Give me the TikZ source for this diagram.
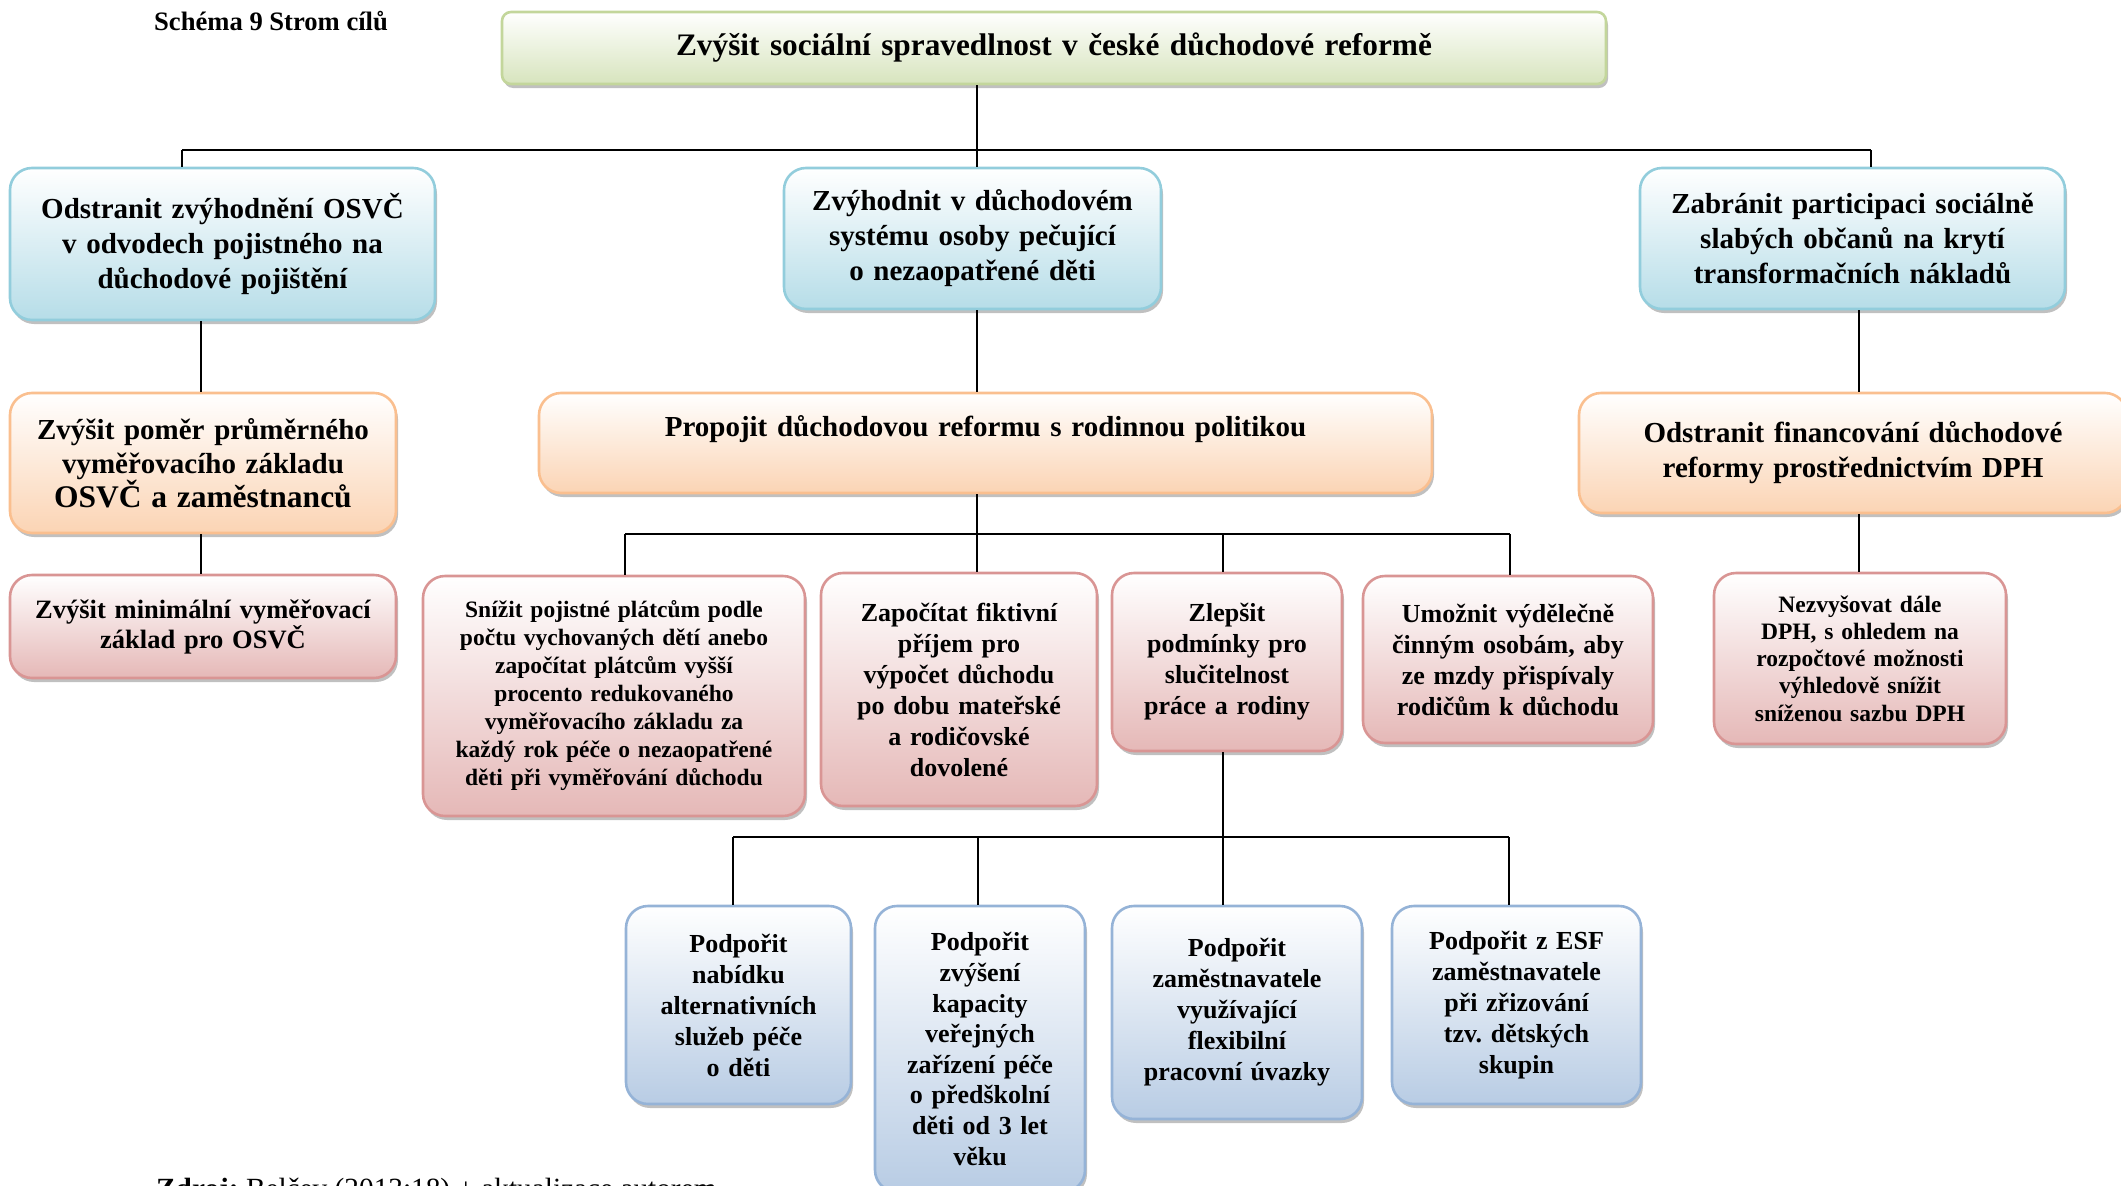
\documentclass[tikz,border=0pt]{standalone}
\usepackage{fontspec}
\setmainfont{Liberation Serif}
\usetikzlibrary{shadows}
\frenchspacing
\definecolor{grB}{HTML}{C3D69B}\definecolor{grF}{HTML}{D7E4BD}
\definecolor{aqB}{HTML}{92CDDC}\definecolor{aqF}{HTML}{B6DDE8}
\definecolor{orB}{HTML}{FABF8F}\definecolor{orF}{HTML}{FBD4B4}
\definecolor{pkB}{HTML}{D99594}\definecolor{pkF}{HTML}{E5B8B7}
\definecolor{blB}{HTML}{95B3D7}\definecolor{blF}{HTML}{B8CCE4}
\newcommand\fsz[2]{\fontsize{#1}{#2}\selectfont\bfseries}
\begin{document}
\begin{tikzpicture}[x=1pt,y=-1pt,
  box/.style={rounded corners=22pt, line width=2.6pt, align=center, inner sep=0pt,
    drop shadow={shadow xshift=2pt,shadow yshift=-4pt,fill=black!45,opacity=.55}},
  greenbox/.style={box, rounded corners=9pt, draw=grB, top color=white, bottom color=grF},
  aquabox/.style={box, draw=aqB, top color=white, bottom color=aqF},
  orangebox/.style={box, draw=orB, top color=white, bottom color=orF},
  pinkbox/.style={box, draw=pkB, top color=white, bottom color=pkF},
  bluebox/.style={box, draw=blB, top color=white, bottom color=blF},
  conn/.style={line width=1.7pt},
  bus/.style={line width=2.8pt}
]
\clip (0,0) rectangle (2121,1186);

\node[anchor=base west, inner sep=0pt, font=\fsz{26.6}{30}] (title) at (154,30) {Schéma 9 Strom cílů};

\node[greenbox, minimum width=1104pt, minimum height=72pt, text width=1090pt, font=\fsz{31.3}{36}] (top) at (1054,48)
  {Zvýšit sociální spravedlnost v české důchodové reformě};

\node[aquabox, minimum width=425pt, minimum height=152pt, text width=413pt, font=\fsz{29}{35}] (B1) at (222.5,244)
  {Odstranit zvýhodnění OSVČ\\ v odvodech pojistného na\\ důchodové pojištění};
\node[aquabox, minimum width=377pt, minimum height=141pt, text width=365pt, font=\fsz{29}{35}] (B2) at (972.5,238.5)
  {Zvýhodnit v důchodovém\\ systému osoby pečující\\ o nezaopatřené děti};
\node[aquabox, minimum width=425pt, minimum height=141pt, text width=413pt, font=\fsz{29}{35}] (B3) at (1852.5,238.5)
  {Zabránit participaci sociálně\\ slabých občanů na krytí\\ transformačních nákladů};

\node[orangebox, minimum width=386pt, minimum height=140pt, text width=376pt, font=\fsz{29}{34}] (O1) at (203,463)
  {Zvýšit poměr průměrného\\ vyměřovacího základu\\ {\fsz{31.5}{35}OSVČ a zaměstnanců}};
\node[orangebox, minimum width=893pt, minimum height=100pt, text width=880pt, font=\fsz{29}{34}] (O2) at (985.5,443)
  {Propojit důchodovou reformu s rodinnou politikou\\ \mbox{}};
\node[orangebox, minimum width=548pt, minimum height=120pt, text width=536pt, font=\fsz{29}{35}] (O3) at (1853,453)
  {Odstranit financování důchodové\\ reformy prostřednictvím DPH};

\node[pinkbox, minimum width=386pt, minimum height=103pt, text width=376pt, font=\fsz{26.5}{30}] (P1) at (203,626.5)
  {Zvýšit minimální vyměřovací\\ základ pro OSVČ};
\node[pinkbox, minimum width=382pt, minimum height=240pt, text width=372pt, font=\fsz{23.5}{28}] (P2) at (614,696)
  {Snížit pojistné plátcům podle\\ počtu vychovaných dětí anebo\\ započítat plátcům vyšší\\ procento redukovaného\\ vyměřovacího základu za\\ každý rok péče o nezaopatřené\\ děti při vyměřování důchodu};
\node[pinkbox, minimum width=276pt, minimum height=233pt, text width=266pt, font=\fsz{26}{31}] (P3) at (959,689.5)
  {Započítat fiktivní\\ příjem pro\\ výpočet důchodu\\ po dobu mateřské\\ a rodičovské\\ dovolené};
\node[pinkbox, minimum width=230pt, minimum height=178pt, text width=222pt, font=\fsz{26}{31}] (P4) at (1227,662)
  {Zlepšit\\ podmínky pro\\ slučitelnost\\ práce a rodiny};
\node[pinkbox, minimum width=290pt, minimum height=167pt, text width=280pt, font=\fsz{26}{31}] (P5) at (1508,659.5)
  {Umožnit výdělečně\\ činným osobám, aby\\ ze mzdy přispívaly\\ rodičům k důchodu};
\node[pinkbox, minimum width=292pt, minimum height=171pt, text width=282pt, font=\fsz{23.5}{27.2}] (P6) at (1860,658.5)
  {Nezvyšovat dále\\ DPH, s ohledem na\\ rozpočtové možnosti\\ výhledově snížit\\ sníženou sazbu DPH};

\node[bluebox, minimum width=225pt, minimum height=198pt, text width=217pt, font=\fsz{26}{31}] (Q1) at (738.5,1005)
  {Podpořit\\ nabídku\\ alternativních\\ služeb péče\\ o děti};
\node[bluebox, minimum width=210pt, minimum height=286pt, text width=202pt, font=\fsz{26}{30.6}] (Q2) at (980,1049)
  {Podpořit\\ zvýšení\\ kapacity\\ veřejných\\ zařízení péče\\ o předškolní\\ děti od 3 let\\ věku};
\node[bluebox, minimum width=250pt, minimum height=213pt, text width=242pt, font=\fsz{26}{31}] (Q3) at (1237,1012.5)
  {Podpořit\\ zaměstnavatele\\ využívající\\ flexibilní\\ pracovní úvazky};
\node[bluebox, minimum width=249pt, minimum height=198pt, text width=241pt, font=\fsz{26}{31}] (Q4) at (1516.5,1005)
  {Podpořit z ESF\\ zaměstnavatele\\ při zřizování\\ tzv. dětských\\ skupin};

\node[anchor=base west, inner sep=0pt, font=\fontsize{29.3}{34}\selectfont] (src) at (156,1198)
  {\textbf{Zdroj:} Belčev (2013:18) + aktualizace autorem};

% level 1
\coordinate (j1L) at (182,150);
\coordinate (j1M) at (977,150);
\coordinate (j1R) at (1871,150);
\draw[bus] (j1L) -- (j1R);
\draw[conn] (top.south -| j1M) -- (B2.north -| j1M);
\draw[conn] (j1L) -- (B1.north -| j1L);
\draw[conn] (j1R) -- (B3.north -| j1R);
% left column
\coordinate (c1) at (201,300);
\draw[conn] (B1.south -| c1) -- (O1.north -| c1);
\draw[conn] (O1.south -| c1) -- (P1.north -| c1);
% right column
\coordinate (c3) at (1859,300);
\draw[conn] (B3.south -| c3) -- (O3.north -| c3);
\draw[conn] (O3.south -| c3) -- (P6.north -| c3);
% middle
\draw[conn] (B2.south -| j1M) -- (O2.north -| j1M);
\coordinate (j2L) at (625,534);
\coordinate (j2M) at (977,534);
\coordinate (j2P) at (1223,534);
\coordinate (j2R) at (1510,534);
\draw[bus] (j2L) -- (j2R);
\draw[conn] (O2.south -| j2M) -- (P3.north -| j2M);
\draw[conn] (j2L) -- (P2.north -| j2L);
\draw[conn] (j2P) -- (P4.north -| j2P);
\draw[conn] (j2R) -- (P5.north -| j2R);
% bottom
\coordinate (j3L) at (733,837);
\coordinate (j3a) at (978,837);
\coordinate (j3b) at (1223,837);
\coordinate (j3R) at (1509,837);
\draw[bus] (j3L) -- (j3R);
\draw[conn] (P4.south -| j3b) -- (Q3.north -| j3b);
\draw[conn] (j3L) -- (Q1.north -| j3L);
\draw[conn] (j3a) -- (Q2.north -| j3a);
\draw[conn] (j3R) -- (Q4.north -| j3R);
\end{tikzpicture}
\end{document}
